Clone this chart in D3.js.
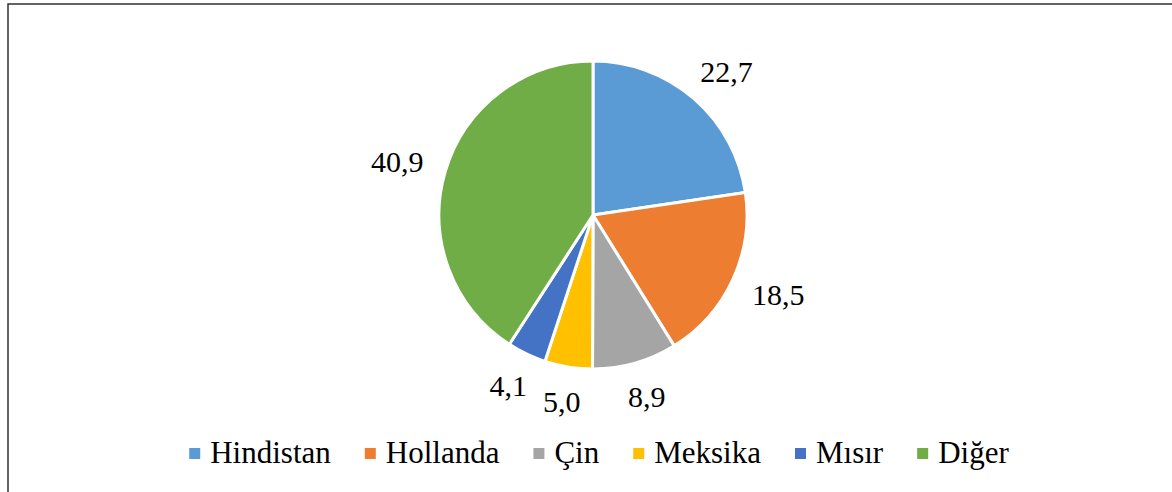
<!DOCTYPE html>
<html>
<head>
<meta charset="utf-8">
<script src="https://cdn.jsdelivr.net/npm/d3@7"></script>
<style>
  html, body { margin: 0; padding: 0; background: #ffffff; }
  svg { display: block; }
</style>
</head>
<body>
<div id="chart"></div>
<script>
"use strict";

const categories = ["Hindistan", "Hollanda", "Çin", "Meksika", "Mısır", "Diğer"];
const values = [22.7, 18.5, 8.9, 5.0, 4.1, 40.9];
const valueLabels = ["22,7", "18,5", "8,9", "5,0", "4,1", "40,9"];
const colors = ["#5B9BD5", "#ED7D31", "#A5A5A5", "#FFC000", "#4472C4", "#70AD47"];

const width = 1172,
    height = 492;

const cx = 593,
    cy = 215,
    radius = 154;

const serif = '"Liberation Serif", "Times New Roman", Times, serif';

const svg = d3.select("#chart").append("svg")
    .attr("width", width)
    .attr("height", height);

// chart frame (cropped on right and bottom)
svg.append("rect")
    .attr("x", 8)
    .attr("y", 4)
    .attr("width", width + 20)
    .attr("height", height + 20)
    .attr("fill", "none")
    .attr("stroke", "#222")
    .attr("stroke-width", 1.4);

const pie = d3.pie()
    .sort(null)
    .value((d) => d);

const arcs = pie(values);

const arc = d3.arc()
    .innerRadius(0)
    .outerRadius(radius);

const g = svg.append("g")
    .attr("transform", `translate(${cx},${cy})`);

g.selectAll("path")
    .data(arcs)
    .enter()
    .append("path")
    .attr("d", arc)
    .attr("fill", (d, i) => colors[i])
    .attr("stroke", "#ffffff")
    .attr("stroke-width", 3)
    .attr("stroke-linejoin", "round");

// data labels, outside end
const labelGap = 178;

const labels = g.selectAll("text.value")
    .data(arcs)
    .enter()
    .append("text")
    .attr("class", "value")
    .attr("text-anchor", "middle")
    .attr("dy", "0.35em")
    .style("font-family", serif)
    .style("font-size", "30px")
    .style("fill", "#000")
    .text((d, i) => valueLabels[i]);

labels.each(function(d) {
    const a = (d.startAngle + d.endAngle) / 2;
    const w = this.getComputedTextLength();
    const h = 22;
    const sx = Math.sin(a),
        sy = -Math.cos(a);
    const x = labelGap * sx + (w / 2) * sx;
    const y = labelGap * sy + (h / 2) * sy;
    d3.select(this).attr("x", x).attr("y", y);
});

// legend
const markerSize = 11,
    markerGap = 10,
    itemGap = 34,
    legendBaseline = 463,
    legendCenter = 599;

const legend = svg.append("g");

const items = legend.selectAll("g")
    .data(categories)
    .enter()
    .append("g");

items.append("rect")
    .attr("width", markerSize)
    .attr("height", markerSize)
    .attr("y", legendBaseline - 15)
    .attr("fill", (d, i) => colors[i]);

items.append("text")
    .attr("y", legendBaseline)
    .style("font-family", serif)
    .style("font-size", "31px")
    .style("fill", "#000")
    .text((d) => d);

let xPos = 0;
items.each(function() {
    const item = d3.select(this);
    const tw = item.select("text").node().getComputedTextLength();
    item.select("rect").attr("x", xPos);
    item.select("text").attr("x", xPos + markerSize + markerGap);
    xPos += markerSize + markerGap + tw + itemGap;
});
const legendWidth = xPos - itemGap;
legend.attr("transform", `translate(${legendCenter - legendWidth / 2},0)`);
</script>
</body>
</html>
